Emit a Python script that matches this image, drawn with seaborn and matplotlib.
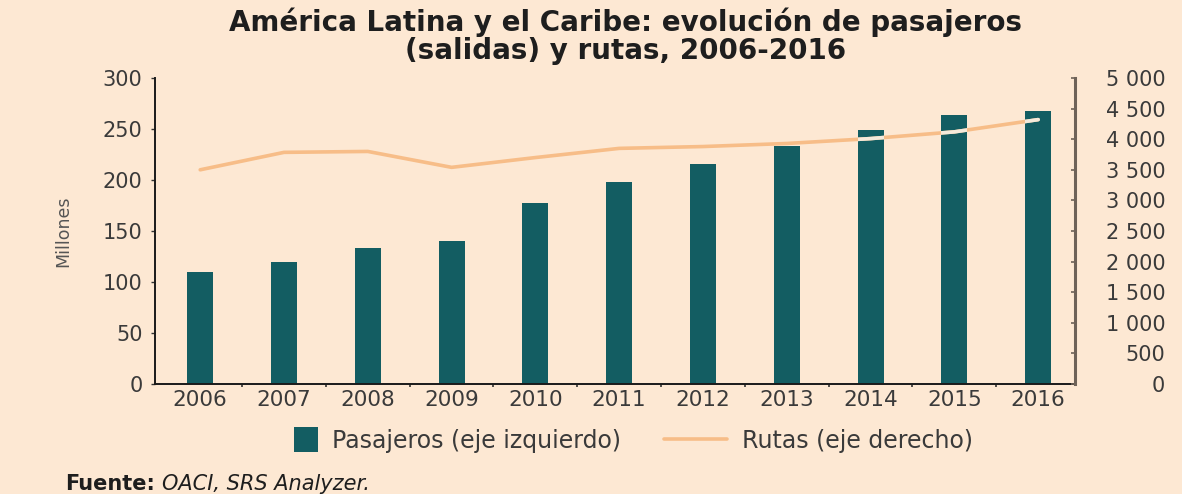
import numpy as np
import pandas as pd
import matplotlib
matplotlib.use("Agg")
import matplotlib.pyplot as plt
from matplotlib.patches import Patch, Rectangle
from matplotlib.lines import Line2D
from matplotlib.legend_handler import HandlerPatch
from matplotlib.ticker import FuncFormatter, FixedLocator
import seaborn as sns

# Passengers (millions, left axis) and routes (right axis), 2006-2016
anios = ["2006", "2007", "2008", "2009", "2010", "2011", "2012", "2013", "2014", "2015", "2016"]
pasajeros = [110, 120, 133, 140, 177, 198, 216, 233, 249, 264, 268]
rutas = [3500, 3785, 3800, 3540, 3700, 3850, 3880, 3930, 4010, 4120, 4320]

titulo = "América Latina y el Caribe: evolución de pasajeros\n(salidas) y rutas, 2006-2016"
etiqueta_barras = "Pasajeros (eje izquierdo)"
etiqueta_linea = "Rutas (eje derecho)"
etiqueta_y = "Millones"
fuente_negrita = "Fuente:"
fuente_texto = "OACI, SRS Analyzer."

fondo = "#fde8d3"
color_barras = "#135d62"
color_linea = "#f7bd88"
color_texto = "#3a3a3a"

sns.set_theme(style="white")
plt.rcParams["font.family"] = ["DejaVu Sans"]

df = pd.DataFrame({"anio": anios, "pasajeros": pasajeros, "rutas": rutas})

fig = plt.figure(figsize=(11.82, 4.94), dpi=100, facecolor=fondo)
ax = fig.add_axes([0.1311, 0.2227, 0.7784, 0.6194])
ax.set_facecolor(fondo)

sns.barplot(data=df, x="anio", y="pasajeros", color=color_barras, saturation=1,
            width=0.31, linewidth=0, edgecolor="none", ax=ax)
ax.set_xlim(-0.54, 10.44)
ax.set_ylim(0, 300)
ax.set_yticks(np.arange(0, 301, 50))
ax.set_xlabel("")
ax.set_ylabel(etiqueta_y, fontsize=12.5, color="#555555", labelpad=22)

ax2 = ax.twinx()
pos = np.arange(len(anios))
sns.lineplot(x=pos, y=df["rutas"], color=color_linea, linewidth=2.6, ax=ax2,
             zorder=3)
# pale highlight where the line crosses the bars
for barra in ax.patches:
    brillo, = ax2.plot(pos, df["rutas"], color="#f4eadb", linewidth=2.6, zorder=4)
    brillo.set_clip_path(barra)
ax2.set_ylim(0, 5000)
ax2.set_yticks(np.arange(0, 5001, 500))
ax2.yaxis.set_major_formatter(FuncFormatter(lambda v, _: f"{int(v):,}".replace(",", " ")))
ax2.set_ylabel("")

for a in (ax, ax2):
    for s in a.spines.values():
        s.set_visible(False)

ax.spines["left"].set_visible(True)
ax.spines["left"].set_color("#1a1a1a")
ax.spines["left"].set_linewidth(1.4)
ax.spines["bottom"].set_visible(True)
ax.spines["bottom"].set_color("#1a1a1a")
ax.spines["bottom"].set_linewidth(1.4)
ax2.spines["right"].set_visible(True)
ax2.spines["right"].set_color("#6e6258")
ax2.spines["right"].set_linewidth(2.2)

ax.tick_params(axis="y", direction="out", length=3, width=1, color="#333333",
               pad=6, labelsize=15, labelcolor=color_texto, left=True)
ax.tick_params(axis="x", length=0, pad=4, labelsize=15.5, labelcolor=color_texto)
ax.xaxis.set_minor_locator(FixedLocator(np.arange(0.5, len(anios) - 1, 1.0)))
ax.tick_params(axis="x", which="minor", direction="out", length=2.5, width=1.2,
               color="#333333", bottom=True)

ax2.tick_params(axis="y", direction="in", length=3, width=1.2, color="#6e6258",
                pad=65, labelsize=15, labelcolor=color_texto, right=True)
for lab in ax2.get_yticklabels():
    lab.set_horizontalalignment("right")

ax.set_zorder(1)
ax2.set_zorder(2)
ax2.patch.set_visible(False)

fig.text(0.529, 0.984, titulo, ha="center", va="top", fontsize=20,
         fontweight="bold", color="#1e1e1e", linespacing=1.0)


def cuadrado(legend, orig_handle, xdescent, ydescent, width, height, fontsize):
    lado = height * 1.25
    return Rectangle((-xdescent + width - lado, -ydescent + (height - lado) / 2),
                     lado, lado)


manejadores = [Patch(facecolor=color_barras, edgecolor="none"),
               Line2D([0], [0], color=color_linea, linewidth=2.6)]
fig.legend(manejadores, [etiqueta_barras, etiqueta_linea], loc="center",
           bbox_to_anchor=(0.519, 0.108), ncol=2, frameon=False, fontsize=17,
           handlelength=2.7, handleheight=0.9, handletextpad=0.6,
           columnspacing=1.8, labelcolor=color_texto,
           handler_map={Patch: HandlerPatch(patch_func=cuadrado)})

t1 = fig.text(0.055, 0.02, fuente_negrita, ha="left", va="center", fontsize=15,
              fontweight="bold", color="#1e1e1e")
fig.canvas.draw()
bb = t1.get_window_extent()
fig.text(bb.x1 / fig.bbox.width + 0.006, 0.02, fuente_texto, ha="left", va="center",
         fontsize=15, fontstyle="italic", color="#1e1e1e")

fig.savefig("out.png", dpi=100, facecolor=fondo)
